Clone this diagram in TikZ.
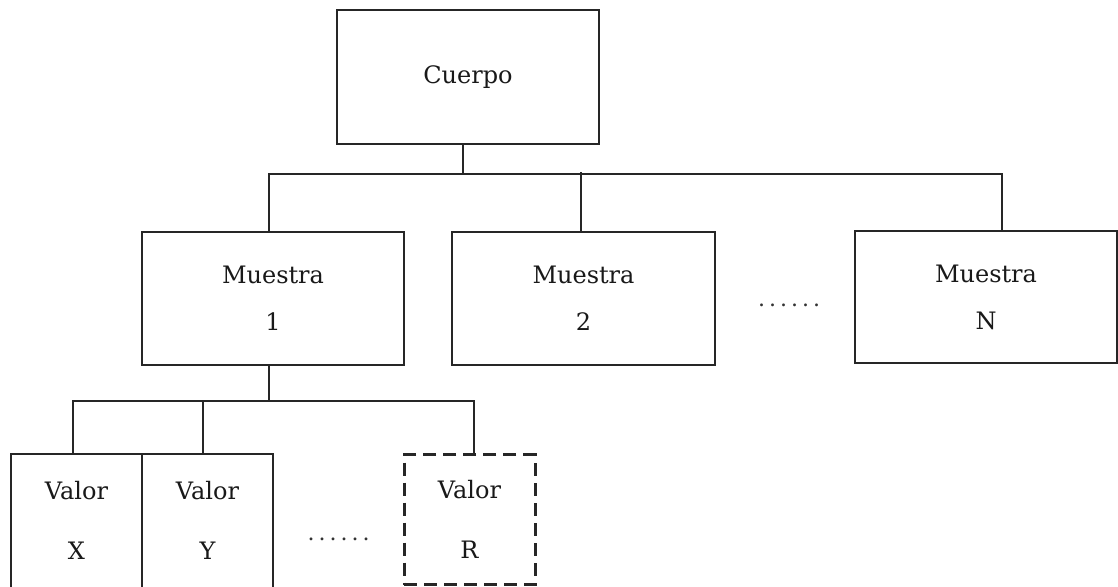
\documentclass[tikz,border=0pt]{standalone}
\usepackage{fontspec}
\setmainfont{DejaVu Serif}
\usetikzlibrary{calc}
\begin{document}
\begin{tikzpicture}[x=1pt,y=-1pt,
  box/.style={draw=black!85, line width=1.5pt, rectangle, inner sep=0pt, align=center,
    font=\fontsize{24}{47}\selectfont, text=black!90},
  lowtext/.style={font=\fontsize{24}{60}\selectfont},
  valbox/.style={box, minimum width=131pt},
  dashbox/.style={box, lowtext, line width=3pt, dash pattern=on 13pt off 7pt},
  conn/.style={draw=black!85, line width=1.5pt},
  dotsty/.style={font=\fontsize{22}{22}\selectfont, text=black!80, inner sep=0pt}]
\useasboundingbox (0,0) rectangle (1118,586);
\clip (0,0) rectangle (1118,586);
\fill[white] (0,0) rectangle (1118,586);
% top
\node[box, minimum width=262pt, minimum height=134pt] (cu) at (468,77) {Cuerpo};
% level 2
\node[box, minimum width=262pt, minimum height=133pt] (m1) at (273,298.5) {Muestra\\1};
\node[box, minimum width=263pt, minimum height=133pt] (m2) at (583.5,298.5) {Muestra\\2};
\node[box, minimum width=262pt, minimum height=132pt] (mN) at (986,297) {Muestra\\N};
\node[dotsty] (d1) at (789,305) {.\kern4pt.\kern4pt.\kern4pt.\kern4pt.\kern4pt.};
% level 3
\node[valbox, minimum height=160pt, anchor=north,
  label={[box, lowtext, draw=none, yshift=13pt]center:{Valor\\X}}] (vx) at (76.5,453) {};
\node[valbox, minimum height=160pt, anchor=north,
  label={[box, lowtext, draw=none, yshift=13pt]center:{Valor\\Y}}] (vy) at (207.5,453) {};
\node[dashbox, minimum width=131pt, minimum height=130pt, anchor=north] (vr) at (469.5,453) {Valor\\R};
\node[dotsty] (d2) at (338.5,539) {.\kern4pt.\kern4pt.\kern4pt.\kern4pt.\kern4pt.};
% connectors level 1
\draw[conn] ($(cu.south)+(-5,0)$) -- ++(0,29) coordinate (j1);
\draw[conn] ($(m1.north)+(-4,0)$) |- (j1);
\draw[conn] ($(m2.north)+(-2.5,0)$) -- ($(m2.north)+(-2.5,-59)$);
\draw[conn] ($(mN.north)+(16,0)$) |- (j1);
% connectors level 2
\draw[conn] ($(m1.south)+(-4,0)$) -- ++(0,35) coordinate (j2);
\draw[conn] ($(vx.north)+(-3.5,0)$) |- (j2);
\draw[conn] ($(vy.north)+(-4.5,0)$) -- ($(vy.north)+(-4.5,-53)$);
\draw[conn] ($(vr.north)+(4.5,0)$) |- (j2);
\end{tikzpicture}
\end{document}
